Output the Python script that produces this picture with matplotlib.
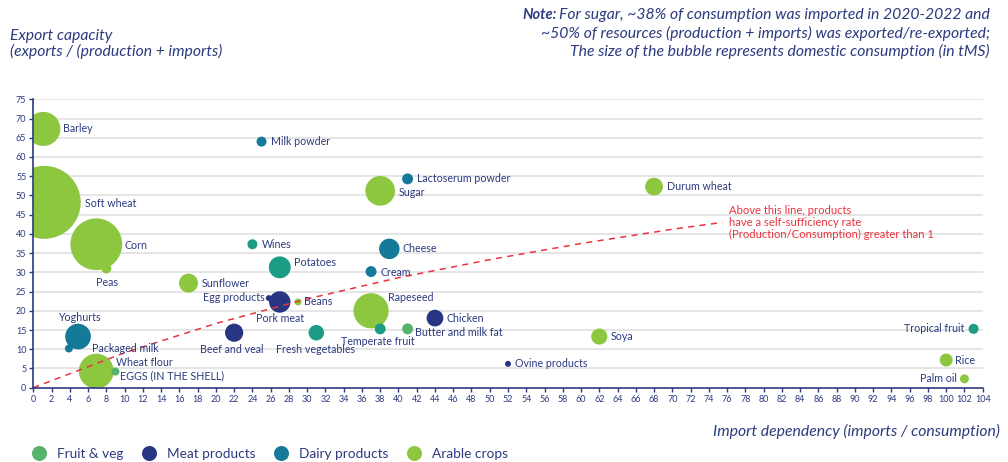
import matplotlib
matplotlib.use("Agg")
import matplotlib.pyplot as plt
from matplotlib.lines import Line2D

plt.rcParams['font.family'] = ['Lato', 'DejaVu Sans']

# data
products = ["Barley", "Soft wheat", "Corn", "Peas", "Sunflower", "Milk powder", "Wines",
            "Potatoes", "Egg products", "Pork meat", "Beans", "Yoghurts", "Packaged milk",
            "Wheat flour", "EGGS (IN THE SHELL)", "Beef and veal", "Fresh vegetables",
            "Lactoserum powder", "Sugar", "Cheese", "Cream", "Rapeseed", "Temperate fruit",
            "Butter and milk fat", "Chicken", "Soya", "Ovine products", "Durum wheat",
            "Tropical fruit", "Rice", "Palm oil"]
import_dep = [1.1, 1.2, 6.9, 8.0, 17.0, 25.0, 24.0, 27.0, 25.8, 27.0, 29.0, 4.9, 3.9,
              6.9, 9.0, 22.0, 31.0, 41.0, 38.0, 39.0, 37.0, 37.0, 38.0, 41.0, 44.0,
              62.0, 52.0, 68.0, 103.0, 100.0, 102.0]
export_cap = [67.3, 48.2, 37.3, 31.0, 27.2, 64.0, 37.3, 31.3, 23.3, 22.3, 22.3, 13.3, 10.2,
              4.3, 4.2, 14.3, 14.3, 54.3, 51.2, 36.1, 30.2, 20.0, 15.3, 15.3, 18.1,
              13.3, 6.2, 52.3, 15.3, 7.2, 2.3]
consumption = [2900, 13300, 6700, 250, 900, 250, 250, 1200, 90, 1150, 120, 1650, 160,
               3050, 160, 830, 600, 300, 2200, 1050, 300, 3100, 300, 300, 700,
               650, 90, 790, 250, 420, 200]
groups = ["arable", "arable", "arable", "arable", "arable", "dairy", "fruit", "fruit", "meat",
          "meat", "arable", "dairy", "dairy", "arable", "other", "meat", "fruit", "dairy",
          "arable", "dairy", "dairy", "arable", "fruit", "other", "meat", "arable", "meat",
          "arable", "fruit", "arable", "arable"]

# self-sufficiency = 1 line
line_x = [0, 10, 20, 30, 40, 50, 60, 70, 75.5]
line_y = [0, 9.1, 16.7, 23.1, 28.6, 33.3, 37.5, 41.2, 43.0]

legend_names = ["Fruit & veg", "Meat products", "Dairy products", "Arable crops"]
legend_groups = ["other", "meat", "dairy", "arable"]

colors = {"fruit": "#1c9c84", "meat": "#283583", "dairy": "#157a97",
          "arable": "#8dc63f", "other": "#55b36b"}
navy = "#2c3a7e"
red = "#e8343f"

# label offsets in pixels (dx, dy, ha)
offsets = {
    "Barley": (20, 0, "left"), "Soft wheat": (41, -1, "left"), "Corn": (28, -1, "left"),
    "Peas": (1, -14, "center"), "Sunflower": (13, 0, "left"), "Milk powder": (9, 0, "left"),
    "Wines": (9, 0, "left"), "Potatoes": (14, 4.5, "left"), "Egg products": (-4, 0.5, "right"),
    "Pork meat": (0, -17, "center"), "Beans": (5.5, 0, "left"), "Yoghurts": (1, 19, "center"),
    "Packaged milk": (23, 0, "left"), "Wheat flour": (20, 9, "left"),
    "EGGS (IN THE SHELL)": (5, -4.5, "left"), "Beef and veal": (-2, -16.7, "center"),
    "Fresh vegetables": (-1, -16.7, "center"), "Lactoserum powder": (9.4, 0, "left"),
    "Sugar": (19, -1.7, "left"), "Cheese": (13, 0, "left"), "Cream": (9.3, -1, "left"),
    "Rapeseed": (16.7, 13, "left"), "Temperate fruit": (-2, -12.7, "center"),
    "Butter and milk fat": (7.7, -3.3, "left"), "Chicken": (12, 0, "left"),
    "Soya": (11.3, 0, "left"), "Ovine products": (6.7, 0, "left"),
    "Durum wheat": (13.3, 0, "left"), "Tropical fruit": (-9.3, 0, "right"),
    "Rice": (9, 0, "left"), "Palm oil": (-7.3, 0, "right"),
}

fig = plt.figure(figsize=(10.08, 4.62), dpi=100)
ax = fig.add_axes([33.3/1008, 1 - 387.7/462, 949.4/1008, 288.4/462])

ax.set_xlim(0, 104)
ax.set_ylim(0, 75)
ax.set_xticks(range(0, 105, 2))
ax.set_yticks(range(0, 76, 5))
for yv in range(5, 76, 5):
    ax.axhline(yv, color="#e3e3e3", lw=1.3, zorder=0)

ax.scatter(import_dep, export_cap, s=[c*0.2074 for c in consumption],
           c=[colors[g] for g in groups], linewidths=0, zorder=2, clip_on=True)

ax.plot(line_x, line_y, color=red, lw=1.1, ls=(0, (4, 3.5)), zorder=3)

for name, x, y in zip(products, import_dep, export_cap):
    dx, dy, ha = offsets[name]
    ax.annotate(name, (x, y), xytext=(dx, dy), textcoords="offset pixels",
                ha=ha, va="center", fontsize=7.7, color=navy, zorder=4,
                annotation_clip=False)

ax.text(76.2, 43.0, "Above this line, products\nhave a self-sufficiency rate\n"
        "(Production/Consumption) greater than 1",
        color=red, fontsize=8.1, ha="left", va="center", linespacing=1.1)

for s in ["top", "right"]:
    ax.spines[s].set_visible(False)
for s in ["left", "bottom"]:
    ax.spines[s].set_color(navy)
    ax.spines[s].set_linewidth(1.2)
    ax.spines[s].set_zorder(5)
ax.tick_params(colors=navy, labelsize=6.5, length=3, width=1, pad=2)

fig.text(10/1008, 1 - 29/462, "Export capacity\n(exports / (production + imports)",
         fontsize=11.3, style="italic", color=navy, ha="left", va="top", linespacing=1.05)

note_lines = ["For sugar, ~38% of consumption was imported in 2020-2022 and",
              "~50% of resources (production + imports) was exported/re-exported;",
              "The size of the bubble represents domestic consumption (in tMS)"]
t1 = None
for i, line in enumerate(note_lines):
    t = fig.text(990/1008, 1 - (15 + 18*i)/462, line, fontsize=11.3, style="italic",
                 color=navy, ha="right", va="center")
    if i == 0:
        t1 = t
ax.annotate("Note:", xy=(0, 0), xycoords=t1, xytext=(-2, 0), textcoords="offset pixels",
            ha="right", va="bottom", fontsize=10.5, style="italic", weight="bold", color=navy,
            annotation_clip=False)

fig.text(1000/1008, 1 - 431/462, "Import dependency (imports / consumption)",
         fontsize=11.3, style="italic", color=navy, ha="right", va="center")

handles = [Line2D([], [], marker="o", ls="", markersize=10.8, color=colors[g],
                  markeredgewidth=0) for g in legend_groups]
fig.legend(handles, legend_names, loc="center left", bbox_to_anchor=(31.4/1008, 1 - 454/462),
           ncol=4, frameon=False, fontsize=9.8, labelcolor=navy, handlelength=1.12,
           handletextpad=0.74, columnspacing=1.35, borderpad=0, borderaxespad=0)

fig.savefig("out.png", dpi=100)
